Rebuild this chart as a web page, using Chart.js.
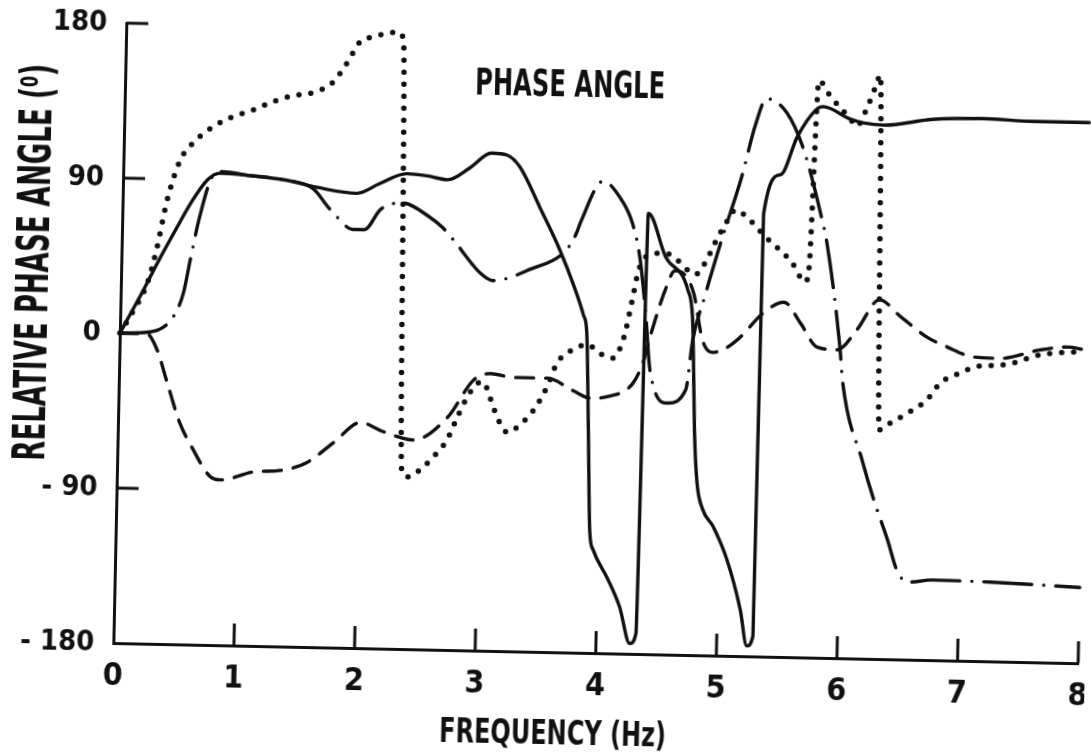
<!DOCTYPE html>
<html>
<head>
<meta charset="utf-8">
<title>Phase angle</title>
<script src="https://cdn.jsdelivr.net/npm/chart.js@4.4.1/dist/chart.umd.min.js"></script>
<style>
  html, body { margin: 0; padding: 0; background: #fff; overflow: hidden; }
  /* the scanned figure sits a little crooked on the page */
  #wrap { width: 1091px; height: 755px; transform: rotate(1.2deg); transform-origin: 50% 50%; }
  canvas { display: block; }
</style>
</head>
<body>
<div id="wrap"><canvas id="phaseChart" width="1091" height="755"></canvas></div>
<script>
const xTicks = [0, 1, 2, 3, 4, 5, 6, 7, 8];
const yTicks = [-180, -90, 0, 90, 180];

// solid curve
const solidX = [0, 0.15, 0.32, 0.455, 0.58, 0.70, 0.80, 1.05, 1.33, 1.61, 1.94, 2.13, 2.35, 2.52, 2.69, 2.87, 3.05, 3.18, 3.29, 3.46, 3.63, 3.76, 3.84, 3.87, 3.90, 3.93, 3.96, 4.08, 4.19, 4.28, 4.33, 4.36, 4.51, 4.70, 4.745, 4.76, 4.78, 4.81, 4.86, 4.95, 5.07, 5.19, 5.25, 5.30, 5.315, 5.45, 5.58, 5.73, 5.79, 6.02, 6.13, 6.30, 6.70, 7.12, 7.53, 8.0];
const solidY = [0, 20, 44, 62, 78, 90, 94, 93, 91, 87, 84, 90, 96, 95, 93, 100, 109, 108, 101, 78, 54, 32, 16, 6, -50, -110, -120, -136, -153, -174, -168, 76, 51, 32, 15, -10, -50, -80, -95, -105, -124, -153, -174, -168, 77, 100, 122, 138, 140, 133, 131, 130, 134, 135, 134, 134];

// dashed curve
const dashX = [0, 0.22, 0.31, 0.40, 0.51, 0.63, 0.77, 0.86, 1.13, 1.38, 1.57, 1.79, 2.01, 2.20, 2.45, 2.73, 2.94, 3.08, 3.27, 3.55, 3.77, 3.91, 4.05, 4.26, 4.34, 4.41, 4.52, 4.59, 4.65, 4.75, 4.83, 4.91, 5.00, 5.14, 5.33, 5.50, 5.64, 5.78, 5.95, 6.11, 6.29, 6.47, 6.69, 6.86, 7.08, 7.30, 7.63, 7.86, 8.0];
const dashY = [0, 0, -9, -28, -51, -67, -82, -84, -79, -77.5, -73, -61, -49, -54, -58.5, -45, -23, -19, -21, -21, -28, -32, -31, -23, -11, 8, 33, 43, 42, 30, 3, -4, -2.4, 5, 19.5, 26, 14, 0.4, -1, 11, 28.5, 19, 7.5, 2, -3.5, -4, 1.4, 3.4, 2];

// dotted curve
const dotX = [0, 0.1, 0.22, 0.29, 0.37, 0.47, 0.57, 0.74, 0.90, 1.06, 1.26, 1.40, 1.56, 1.72, 1.84, 1.94, 2.05, 2.25, 2.30, 2.36, 2.41, 2.49, 2.62, 2.73, 2.81, 2.89, 2.97, 3.02, 3.08, 3.14, 3.23, 3.33, 3.44, 3.55, 3.63, 3.76, 3.88, 3.98, 4.09, 4.18, 4.24, 4.29, 4.38, 4.51, 4.61, 4.76, 4.84, 4.92, 5.02, 5.08, 5.16, 5.33, 5.56, 5.67, 5.70, 5.75, 5.85, 6.02, 6.07, 6.15, 6.22, 6.26, 6.31, 6.40, 6.54, 6.70, 6.81, 6.97, 7.11, 7.30, 7.41, 7.63, 8.0];
const dotY = [0, 12, 29.5, 49, 78, 101, 111, 121, 127, 131, 137, 140, 142, 148, 160, 172, 175, 178, 174, -76, -80, -77, -68, -58, -45, -33, -25, -24, -33, -44, -53, -48.5, -40, -26, -12, -4, -1, -6, -8.5, 4, 25, 43, 52, 53, 49, 41, 48, 60, 73, 79, 76, 64, 49, 38, 45, 155, 146, 133, 129, 139, 152, 159, -47, -43, -37, -29, -19, -13, -9, -8, -6.5, -1.5, 1];

// dash-dot curve
const dashDotX = [0, 0.25, 0.36, 0.44, 0.52, 0.57, 0.64, 0.74, 0.82, 1.05, 1.33, 1.58, 1.70, 1.78, 1.91, 2.01, 2.14, 2.32, 2.55, 2.66, 2.75, 2.98, 3.08, 3.39, 3.69, 3.77, 3.80, 3.98, 4.12, 4.23, 4.30, 4.36, 4.40, 4.55, 4.70, 4.75, 4.84, 4.97, 5.13, 5.23, 5.32, 5.49, 5.63, 5.78, 5.85, 5.97, 6.00, 6.18, 6.27, 6.40, 6.48, 6.57, 6.78, 7.26, 8.0];
const dashDotY = [0, 1, 4, 10, 24, 43, 68, 92, 95, 93, 91, 86, 76, 70, 63, 63, 75, 79, 71, 65, 58, 39, 35, 42, 54, 64, 70, 94, 85, 70, 49, 14, -15, -34, -26, 3, 28, 61, 99, 128, 144, 136, 116, 80, 59, 1, -20, -66, -86, -111, -128, -135, -133.5, -134, -136];

const ink = '#111';
const narrow = '"Liberation Sans Narrow", "DejaVu Sans Condensed", "Roboto Condensed", sans-serif';

const toPoints = (xs, ys) => xs.map((x, i) => ({ x: x, y: ys[i] }));

const series = (label, xs, ys, dash, width, cap) => ({
    label: label,
    data: toPoints(xs, ys),
    borderColor: ink,
    borderWidth: width,
    borderDash: dash,
    borderCapStyle: cap,
    borderJoinStyle: 'round',
    cubicInterpolationMode: 'monotone',
    pointRadius: 0,
    fill: false,
    clip: 8
});

// text squeezed to the width it has in the figure
function drawLabel(ctx, text, cx, cy, size, width, angle) {
    ctx.save();
    ctx.translate(cx, cy);
    ctx.rotate(angle);
    ctx.font = 'bold ' + size + 'px ' + narrow;
    const w = ctx.measureText(text).width;
    ctx.scale(width / w, 1);
    ctx.textAlign = 'center';
    ctx.textBaseline = 'alphabetic';
    ctx.fillStyle = ink;
    ctx.fillText(text, 0, size * 0.36);
    ctx.restore();
}

const decor = {
    id: 'decor',
    afterDraw(chart) {
        const ctx = chart.ctx;
        const x = chart.scales.x;
        const y = chart.scales.y;
        ctx.save();
        ctx.strokeStyle = ink;
        ctx.lineWidth = 3;
        // tick marks point into the plot
        xTicks.slice(1).forEach(v => {
            const px = x.getPixelForValue(v);
            ctx.beginPath();
            ctx.moveTo(px, y.bottom);
            ctx.lineTo(px, y.bottom - 22);
            ctx.stroke();
        });
        yTicks.filter(v => v !== 0 && v !== -180).forEach(v => {
            const py = y.getPixelForValue(v);
            ctx.beginPath();
            ctx.moveTo(x.left, py);
            ctx.lineTo(x.left + 22, py);
            ctx.stroke();
        });
        ctx.restore();

        drawLabel(ctx, 'PHASE ANGLE', 564, 82, 38, 190, 0);
        drawLabel(ctx, 'FREQUENCY (Hz)', 560, 732, 34, 227, 0);
        drawLabel(ctx, 'RELATIVE PHASE ANGLE (⁰)', 30, 273, 44, 397, -Math.PI / 2);
    }
};

new Chart(document.getElementById('phaseChart'), {
    type: 'line',
    data: {
        datasets: [
            series('solid', solidX, solidY, [], 3.4, 'round'),
            series('dashed', dashX, dashY, [18, 12], 3.4, 'round'),
            series('dotted', dotX, dotY, [0, 12], 5.5, 'round'),
            series('dash-dot', dashDotX, dashDotY, [48, 12, 0, 12], 3.4, 'round')
        ]
    },
    options: {
        responsive: false,
        animation: false,
        layout: { padding: { top: 32, right: 7, left: 0, bottom: 0 } },
        plugins: {
            legend: { display: false },
            tooltip: { enabled: false }
        },
        scales: {
            x: {
                type: 'linear',
                min: 0,
                max: 8,
                afterBuildTicks: s => { s.ticks = xTicks.map(v => ({ value: v })); },
                afterFit: s => { s.height = 103; s.paddingLeft = 0; s.paddingRight = 0; },
                grid: { drawOnChartArea: false, drawTicks: false },
                border: { color: ink, width: 3 },
                ticks: {
                    color: ink,
                    autoSkip: false,
                    maxRotation: 0,
                    padding: 14,
                    font: { family: narrow, size: 32, weight: 'bold' }
                }
            },
            y: {
                type: 'linear',
                min: -180,
                max: 180,
                afterBuildTicks: s => { s.ticks = yTicks.map(v => ({ value: v })); },
                afterFit: s => { s.width = 119; s.paddingTop = 0; s.paddingBottom = 0; },
                grid: { drawOnChartArea: false, drawTicks: false },
                border: { color: ink, width: 3 },
                ticks: {
                    color: ink,
                    autoSkip: false,
                    padding: 19,
                    font: { family: narrow, size: 29, weight: 'bold' },
                    callback: v => v < 0 ? '- ' + Math.abs(v) : String(v)
                }
            }
        }
    },
    plugins: [decor]
});
</script>
</body>
</html>
